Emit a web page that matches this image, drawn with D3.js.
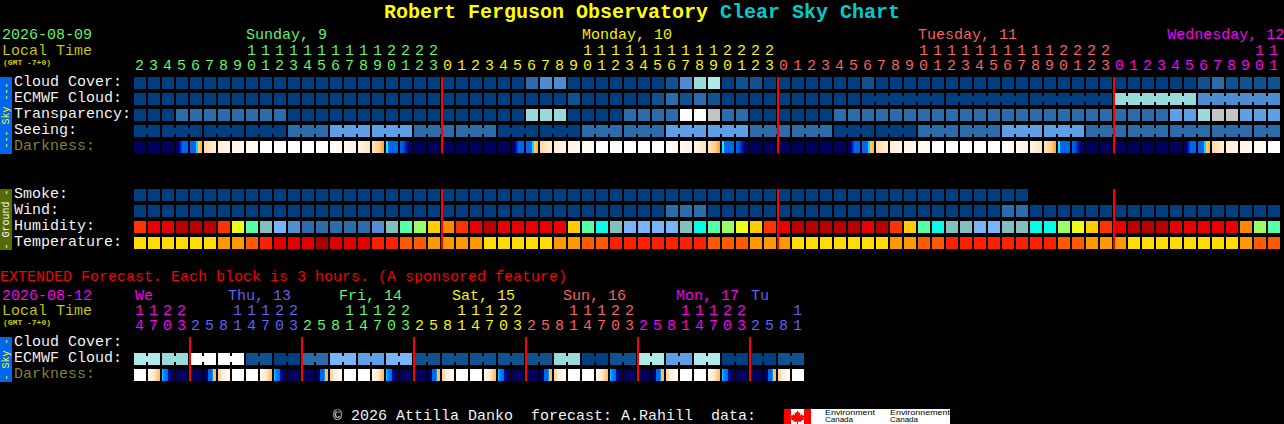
<!DOCTYPE html>
<html>
<head>
<meta charset="utf-8">
<title>Clear Sky Chart</title>
<script src="https://cdn.jsdelivr.net/npm/d3@7"></script>
<style>
html,body{margin:0;padding:0;background:#000;overflow:hidden}
svg{display:block}
text{font-family:"Liberation Mono",monospace;font-size:15px;white-space:pre;stroke:#000;stroke-width:.08px}
text.solid{stroke:none}
</style>
</head>
<body>
<svg id="c" width="1284" height="424"></svg>
<script>
// ---- data -----------------------------------------------------------
const hours = [2,3,4,5,6,7,8,9,10,11,12,13,14,15,16,17,18,19,20,21,22,23,
  0,1,2,3,4,5,6,7,8,9,10,11,12,13,14,15,16,17,18,19,20,21,22,23,
  0,1,2,3,4,5,6,7,8,9,10,11,12,13,14,15,16,17,18,19,20,21,22,23,
  0,1,2,3,4,5,6,7,8,9,10,11];
const hourDay = [0,0,0,0,0,0,0,0,0,0,0,0,0,0,0,0,0,0,0,0,0,0,
  1,1,1,1,1,1,1,1,1,1,1,1,1,1,1,1,1,1,1,1,1,1,1,1,
  2,2,2,2,2,2,2,2,2,2,2,2,2,2,2,2,2,2,2,2,2,2,2,2,
  3,3,3,3,3,3,3,3,3,3,3,3];
const dayNames = ["Sunday, 9","Monday, 10","Tuesday, 11","Wednesday, 12"];
const dayNameCol = [8,32,56,73.8];
const dayBreaks = [22,46,70];

const cloudCover = [0,0,0,0,0,0,0,0,0,0, 0,0,0,0,0,0,0,0,0,0, 0,0,0,0,0,0,0,0,2,3,
  3,0,0,0,0,0,0,0,1,3, 6,7,0,1,1,0,0,0,0,0, 0,0,1,0,0,0,0,0,0,0,
  0,0,0,0,0,0,0,0,0,0, 0,0,0,0,0,0,1,2,1,1, 1,1];
const ecmwfCloud = [0,0,0,0,0,0,0,0,0,0, 0,0,0,0,0,0,0,0,0,0, 0,0,0,0,0,0,0,0,0,0,
  0,1,0,0,0,0,0,1,2,1, 2,1,0,0,0,0,0,0,0,0, 0,0,0,0,0,0,0,0,0,0,
  0,0,0,0,0,0,0,0,0,0, 6,6,6,6,6,6,3,3,3,3, 3,3];
const ecmwfBlocks = [1,1,1,1,1,1,1,1,1,1,1,1,1,1,1,1,1,1,1,1,1,1,1,1,1,1,
  1,1,1,1,1,1,1,1,1,1,1,1,1,1,1,1,1,1,1,1,1,1,1,1,1,1, 6,6,6,6,6];
const transparency = [0,0,0,2,2,2,2,2,2,2, 2,0,0,0,0,0,0,0,0,0, 0,0,0,0,0,0,0,0,6,6,
  6,0,0,0,0,2,2,2,2,8, 8,9,2,2,0,0,0,0,0,0, 2,2,2,2,2,2,2,2,2,2,
  2,2,2,2,2,2,2,2,2,2, 2,2,2,2,4,4,6,9,9,4, 4,4];
const seeing = [0,0,0,0,0,0,0,0,0,0, 0,2,2,2,4,4,4,4,4,4, 2,2,2,2,2,2,0,0,0,0,
  0,0,2,2,2,2,2,2,4,4, 4,4,4,4,2,2,2,2,2,2, 0,0,0,0,0,0,2,2,2,2,
  2,2,4,4,4,4,4,4,2,2, 2,2,2,2,2,2,2,2,2,2, 2,2];
const seeingBlocks = [2,3,3,3,3,3,3,3,3,3,3,3,3,3,3,3,3,3,3,3,3,3,3,3,3,3,3,2];
const darkness = ["n","n","n","a","b","c","d","e","x","w", "w","w","w","w","x","y","f","g","h","i",
  "n","n","n","n","n","n","n","a","b","c", "d","e","x","w","w","w","w","w","x","y",
  "f","g","h","i","n","n","n","n","n","n", "n","a","b","c","d","e","x","w","w","w",
  "w","w","x","y","f","g","h","i","n","n", "n","n","n","n","n","a","b","c","d","e", "x","w"];
const smoke = [0,0,0,0,0,0,0,0,0,0, 0,0,0,0,0,0,0,0,0,0, 0,0,0,0,0,0,0,0,0,0,
  0,0,0,0,0,0,0,0,0,0, 0,0,0,0,0,0,0,0,0,0, 0,0,0,0,0,0,0,0,0,0, 0,0,0,0];
const wind = [0,0,0,0,0,0,0,0,0,0, 0,0,0,0,0,0,0,0,0,0, 0,0,0,0,0,0,0,0,0,0,
  0,0,0,0,0,0,0,0,2,2, 2,0,0,0,0,0,0,0,0,0, 0,0,0,0,0,0,0,0,0,0,
  0,0,2,2,0,0,0,0,0,0, 0,0,0,0,0,0,0,0,0,0, 0,0];
const humidity = [80,85,85,90,90,90,80,65,55,45, 40,35,30,30,30,30,30,35,45,55,
  60,70,75,80,85,90,85,85,85,85, 85,70,55,50,45,40,40,40,40,45,
  50,55,60,65,70,80,85,90,90,90, 90,90,85,90,80,70,55,50,45,45,
  40,40,45,45,50,50,60,65,70,80, 85,90,90,90,85,85,85,85,85,75, 60,55];
const temperature = [16,16,16,16,16,16,19,19,22,25, 28,28,28,31,28,28,28,25,25,22,
  22,19,19,19,19,16,16,16,16,16, 19,19,22,22,25,25,25,25,25,25,
  25,22,22,22,19,19,19,16,16,16, 16,16,16,16,19,19,22,22,25,25,
  25,25,25,25,25,25,22,22,19,19, 19,16,16,16,16,16,16,16,16,19, 22,22];

const extHours = [14,17,20,23, 2,5,8,11,14,17,20,23, 2,5,8,11,14,17,20,23,
  2,5,8,11,14,17,20,23, 2,5,8,11,14,17,20,23, 2,5,8,11,14,17,20,23, 2,5,8,11];
const extDay = [3,3,3,3, 4,4,4,4,4,4,4,4, 0,0,0,0,0,0,0,0,
  1,1,1,1,1,1,1,1, 2,2,2,2,2,2,2,2, 3,3,3,3,3,3,3,3, 4,4,4,4];
const extDayNames = ["We","Thu, 13","Fri, 14","Sat, 15","Sun, 16","Mon, 17","Tu"];
const extDayNameX = [135,228,339,452,563,676,751];
const extDayNameColor = [3,4,0,1,2,3,4];
const extBreaks = [4,12,20,28,36,44];
const extEcmwf = [7,7,6,6,8,8,8,8,1,1, 0,0,2,2,5,5,4,4,5,5,
  1,1,1,1,1,1,1,1,1,1, 6,6,0,0,1,1,7,7,4,4, 7,7,0,0,0,0,1,1];
const extEcmwfBlocks = [2,2,2,2,2,2,2,2,2,2,2,2,2,2,2,2,2,2,2,2,2,2,2,2];
const extDarkness = ["w","G","H","n","n","B","C","w","w","G","H","n","n","B","C","w",
  "w","G","H","n","n","B","C","w","w","G","H","n","n","B","C","w",
  "w","G","H","n","n","B","C","w","w","G","H","n","n","B","C","w"];

const skyColors = ["#003f7f","#10528f","#2c6cab","#4e8cd2","#5f9fe5","#77b5f8","#99dada","#aeeaea","#ffffff","#c3c3c3"];
const humLevels = [30,35,40,45,50,55,60,65,70,75,80,85,90];
const humColors = ["#2c6cab","#5090d0","#77b5f8","#80c0c0","#00ffe8","#55ffaa","#99ff66","#e8ff18","#ffcc00","#ff8800","#ff3300","#e80000","#b80000"];
const tempLevels = [16,19,22,25,28,31];
const tempColors = ["#ffdd00","#ff9900","#ff5a00","#ff2000","#e00000","#a80000"];
const dayColors = ["#66ff66","#ffff00","#ff6666","#ff00ff","#6666ff"];
const darkStops = {
  n:[[0,"#00005c"],[1,"#00005c"]],
  a:[[0,"#00005c"],[.25,"#000070"],[.4,"#0030c0"],[.55,"#0066ee"],[1,"#0066ee"]],
  b:[[0,"#0066ee"],[.5,"#0066ee"],[.5,"#00ddff"],[.66,"#00ddff"],[.66,"#ffcc66"],[1,"#ffb040"]],
  c:[[0,"#ffd8a8"],[1,"#fff0d8"]],
  d:[[0,"#ffeed8"],[1,"#fff6ea"]],
  e:[[0,"#fff4e4"],[1,"#fffaf4"]],
  x:[[0,"#fffdfa"],[1,"#fff9f2"]],
  w:[[0,"#ffffff"],[1,"#ffffff"]],
  y:[[0,"#fffaf2"],[1,"#fff0e0"]],
  f:[[0,"#fff4e4"],[1,"#ffe4c4"]],
  g:[[0,"#ffe6c4"],[.6,"#ffcc88"],[1,"#ffa030"]],
  h:[[0,"#00eeff"],[.17,"#00eeff"],[.17,"#0066ee"],[1,"#0066ee"]],
  i:[[0,"#0066ee"],[.3,"#0050d8"],[.5,"#0020a0"],[.75,"#000070"],[1,"#00005c"]],
  G:[[0,"#fffdf8"],[.5,"#ffe8c8"],[1,"#ffb860"]],
  H:[[0,"#00ccff"],[.17,"#0088ff"],[.5,"#0066ee"],[.55,"#000090"],[1,"#00005c"]],
  B:[[0,"#00005c"],[.35,"#00005c"],[.35,"#0066ee"],[.7,"#0066ee"],[.72,"#00ccff"],[.8,"#ffcc66"],[1,"#ffb040"]],
  C:[[0,"#ffd090"],[.4,"#fff0dc"],[1,"#ffffff"]]
};

// ---- scales ----------------------------------------------------------
const svg = d3.select("#c");
const x = d3.scaleBand().domain(d3.range(hours.length)).range([134,1280]).paddingInner(1/7).paddingOuter(0);
const xe = d3.scaleBand().domain(d3.range(extHours.length)).range([134,804]).paddingInner(1/7).paddingOuter(0);
const rowY = d3.scaleLinear().domain([0,1]).range([77,93]);
const extRowY = d3.scaleLinear().domain([0,1]).range([337,353]);
const sky = d3.scaleOrdinal().domain(d3.range(skyColors.length)).range(skyColors);
const hum = d3.scaleOrdinal().domain(humLevels).range(humColors);
const temp = d3.scaleOrdinal().domain(tempLevels).range(tempColors);

// ---- gradients for darkness -------------------------------------------
const defs = svg.append("defs");
Object.entries(darkStops).forEach(([k,st])=>{
  const g = defs.append("linearGradient").attr("id","dk"+k);
  st.forEach(s=>g.append("stop").attr("offset",s[0]).attr("stop-color",s[1]));
});

// ---- helpers -----------------------------------------------------------
function T(px,py,s,fill,extra){
  const t = svg.append("text").attr("x",px).attr("y",py).attr("fill",fill).text(s);
  if(extra) extra(t);
  return t;
}
function row(values,xs,y,color){
  const h = 12;
  svg.append("g").attr("shape-rendering","crispEdges").selectAll("rect").data(values).join("rect")
    .attr("x",(d,i)=>xs(i)).attr("y",y).attr("width",xs.bandwidth()).attr("height",h).attr("fill",color);
}
function bridges(values,xs,y,blocks,color){
  let i=0; const links=[];
  blocks.forEach(b=>{ for(let j=0;j<b-1;j++) links.push(i+j); i+=b; });
  svg.append("g").attr("shape-rendering","crispEdges").selectAll("rect").data(links).join("rect")
    .attr("x",d=>xs(d)+xs.bandwidth()).attr("y",y+3).attr("width",xs.step()-xs.bandwidth()).attr("height",6)
    .attr("fill",d=>color(values[d]));
}
function hourRow(hs,days,xs,y1,y2){
  svg.append("g").selectAll("text").data(hs).join("text")
    .attr("x",(d,i)=>xs(i)+1).attr("y",y2).attr("fill",(d,i)=>dayColors[days[i]]).text(d=>d%10);
  svg.append("g").selectAll("text").data(hs.map((h,i)=>({h,i})).filter(o=>o.h>=10)).join("text")
    .attr("x",o=>xs(o.i)+1).attr("y",y1).attr("fill",o=>dayColors[days[o.i]]).text(o=>Math.floor(o.h/10));
}
function breaks(list,xs,y0,y1){
  svg.append("g").attr("shape-rendering","crispEdges").selectAll("rect").data(list).join("rect")
    .attr("x",d=>Math.round(xs(d))-1).attr("width",2).attr("y",y0).attr("height",y1-y0)
    .attr("fill","#ff0000");
}
function tab(y,h,fill,label,color){
  svg.append("rect").attr("x",0).attr("y",y).attr("width",12).attr("height",h).attr("fill",fill);
  svg.append("text").attr("class","solid").attr("transform",`translate(9,${y+h/2}) rotate(-90)`).attr("text-anchor","middle")
    .attr("fill",color).style("font-size","10px").text(label);
}

// ---- title --------------------------------------------------------------
const ttl = svg.append("text").attr("class","solid").attr("x",384).attr("y",18).style("font-size","20px").style("font-weight","bold");
ttl.append("tspan").attr("fill","#ffff00").text("Robert Ferguson Observatory ");
ttl.append("tspan").attr("fill","#00cccc").text("Clear Sky Chart");

// ---- main header ---------------------------------------------------------
T(2,39,"2026-08-09",dayColors[0]);
T(2,55,"Local Time","#cccc00");
T(3,65,"(GMT -7+0)","#cccc00",t=>t.attr("class","solid").style("font-size","8px").style("font-weight","bold"));
dayNames.forEach((n,i)=>T(x(0)+dayNameCol[i]*14,39,n,dayColors[i]));
hourRow(hours,hourDay,x,55,70);

// ---- main rows -------------------------------------------------------------
const skyLabels = [["Cloud Cover:",cloudCover],["ECMWF Cloud:",ecmwfCloud],["Transparency:",transparency],["Seeing:",seeing]];
skyLabels.forEach((r,i)=>{
  T(14,rowY(i)+9,r[0],"#ffffff");
  row(r[1],x,rowY(i),d=>sky(d));
});
bridges(ecmwfCloud,x,rowY(1),ecmwfBlocks,d=>sky(d));
bridges(seeing,x,rowY(3),seeingBlocks,d=>sky(d));
T(14,rowY(4)+9,"Darkness:","#888833");
row(darkness,x,rowY(4),d=>`url(#dk${d})`);

T(14,rowY(7)+9,"Smoke:","#ffffff");       row(smoke,x,rowY(7),d=>sky(d));
T(14,rowY(8)+9,"Wind:","#ffffff");        row(wind,x,rowY(8),d=>sky(d));
T(14,rowY(9)+9,"Humidity:","#ffffff");    row(humidity,x,rowY(9),d=>hum(d));
T(14,rowY(10)+9,"Temperature:","#ffffff");row(temperature,x,rowY(10),d=>temp(d));

breaks(dayBreaks,x,rowY(0),rowY(4)+12);
breaks(dayBreaks,x,rowY(7),rowY(10)+12);
tab(77,77,"#0066ee","--- Sky ---","#ffff00");
tab(189,61,"#556b00","- Ground -","#ffffff");

// ---- extended --------------------------------------------------------------
T(0,281,"EXTENDED Forecast. Each block is 3 hours. (A sponsored feature)","#ff0000");
T(2,300,"2026-08-12",dayColors[3]);
T(2,315,"Local Time","#cccc00");
T(3,325,"(GMT -7+0)","#cccc00",t=>t.attr("class","solid").style("font-size","8px").style("font-weight","bold"));
extDayNames.forEach((n,i)=>T(extDayNameX[i],300,n,dayColors[extDayNameColor[i]]));
hourRow(extHours,extDay,xe,315,330);
T(14,extRowY(0)+9,"Cloud Cover:","#ffffff");
T(14,extRowY(1)+9,"ECMWF Cloud:","#ffffff");
row(extEcmwf,xe,extRowY(1),d=>sky(d));
bridges(extEcmwf,xe,extRowY(1),extEcmwfBlocks,d=>sky(d));
T(14,extRowY(2)+9,"Darkness:","#888833");
row(extDarkness,xe,extRowY(2),d=>`url(#dk${d})`);
breaks(extBreaks,xe,extRowY(0),extRowY(2)+12);
tab(337,45,"#0066ee","- Sky -","#ffff00");

// ---- footer -----------------------------------------------------------------
T(333,420,"\u00a9 2026 Attilla Danko  forecast: A.Rahill  data:","#ffffff");
svg.append("rect").attr("x",784).attr("y",409).attr("width",166).attr("height",15).attr("fill","#ffffff");
svg.append("rect").attr("x",784).attr("y",409).attr("width",7).attr("height",15).attr("fill","#ff0000");
svg.append("rect").attr("x",804).attr("y",409).attr("width",7).attr("height",15).attr("fill","#ff0000");
svg.append("path").attr("fill","#ff0000")
  .attr("d","M797.5 410.5l1.5 2.5 1.5-.5-.5 3 2-1.5.5 1.5 2 0-1 2.5 1 1-3.5 2-.5 1-2.5-.5v2.5h-1v-2.5l-2.5.5-.5-1-3.5-2 1-1-1-2.5 2 0 .5-1.5 2 1.5-.5-3 1.5.5z");
[["Environment",825,50],["Environnement",890,60]].forEach(d=>{
  const sty = t=>t.attr("class","solid").style("font-size","8px").style("font-family","'Liberation Sans'");
  T(d[1],414.5,d[0],"#000000",sty).attr("textLength",d[2]).attr("lengthAdjust","spacingAndGlyphs");
  T(d[1],422,"Canada","#000000",sty).attr("textLength",28).attr("lengthAdjust","spacingAndGlyphs");
});
</script>
</body>
</html>
